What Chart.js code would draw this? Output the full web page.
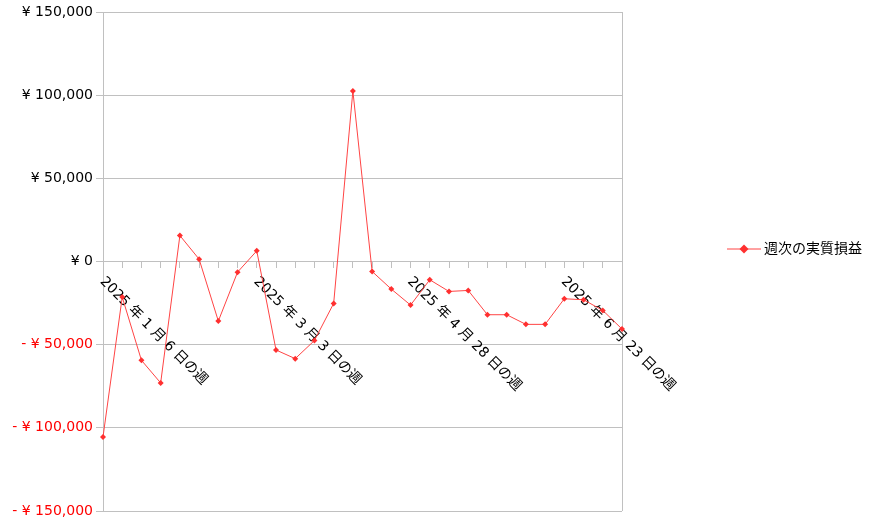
<!DOCTYPE html>
<html>
<head>
<meta charset="utf-8">
<script src="https://cdn.jsdelivr.net/npm/chart.js@4.4.1/dist/chart.umd.min.js"></script>
<style>
    html, body { margin: 0; padding: 0; background: #ffffff; }
    #wrap { width: 870px; height: 525px; }
</style>
</head>
<body>
<div id="wrap"><canvas id="pnlChart" width="870" height="525"></canvas></div>
<script>
const seriesName = '週次の実質損益';

const weekLabels = [
    '2025 年 1 月 6 日の週', '2025 年 1 月 13 日の週', '2025 年 1 月 20 日の週', '2025 年 1 月 27 日の週',
    '2025 年 2 月 3 日の週', '2025 年 2 月 10 日の週', '2025 年 2 月 17 日の週', '2025 年 2 月 24 日の週',
    '2025 年 3 月 3 日の週', '2025 年 3 月 10 日の週', '2025 年 3 月 17 日の週', '2025 年 3 月 24 日の週',
    '2025 年 3 月 31 日の週', '2025 年 4 月 7 日の週', '2025 年 4 月 14 日の週', '2025 年 4 月 21 日の週',
    '2025 年 4 月 28 日の週', '2025 年 5 月 5 日の週', '2025 年 5 月 12 日の週', '2025 年 5 月 19 日の週',
    '2025 年 5 月 26 日の週', '2025 年 6 月 2 日の週', '2025 年 6 月 9 日の週', '2025 年 6 月 16 日の週',
    '2025 年 6 月 23 日の週', '2025 年 6 月 30 日の週', '2025 年 7 月 7 日の週', '2025 年 7 月 14 日の週'
];

const weeklyProfit = [
    -105500, -21400, -59400, -73000, 15600, 1400, -35800, -6400,
    6400, -53200, -58400, -47500, -25200, 102500, -6000, -16600,
    -26200, -11000, -18000, -17400, -32000, -32000, -37800, -37800,
    -22400, -23000, -29400, -40600
];

const yMin = -150000;
const yMax = 150000;
const yStep = 50000;
const labelEvery = 8;

const FONT_FAMILY = '"DejaVu Sans", "Noto Sans CJK JP", sans-serif';
const LINE_COLOR = '#ff4444';
const MARKER_COLOR = '#ff3030';
const GRID_COLOR = '#c0c0c0';

function formatYen(value) {
    const body = '¥ ' + Math.abs(value).toLocaleString('en-US');
    return value < 0 ? '- ' + body : body;
}

// week labels run down-right from the tick, so draw them ourselves
const slantedWeekLabels = {
    id: 'slantedWeekLabels',
    beforeDatasetsDraw(chart) {
        const { ctx, scales: { x, y } } = chart;
        const y0 = y.getPixelForValue(0);
        ctx.save();
        ctx.font = `14px ${FONT_FAMILY}`;
        ctx.fillStyle = '#000000';
        ctx.textAlign = 'left';
        ctx.textBaseline = 'middle';
        weekLabels.forEach((label, i) => {
            if (i % labelEvery) return;
            const px = x.getPixelForValue(i);
            ctx.save();
            ctx.translate(px - 1, y0 + 18);
            ctx.rotate(Math.PI / 4);
            ctx.fillText(label, 0, 0);
            ctx.restore();
        });
        ctx.restore();
    }
};

const sideLegend = {
    id: 'sideLegend',
    afterDraw(chart) {
        const { ctx, chartArea } = chart;
        const left = chartArea.right + 105;
        const midY = 249;
        ctx.save();
        ctx.strokeStyle = LINE_COLOR;
        ctx.lineWidth = 1;
        ctx.beginPath();
        ctx.moveTo(left, midY);
        ctx.lineTo(left + 34, midY);
        ctx.stroke();

        const cx = left + 17;
        ctx.fillStyle = MARKER_COLOR;
        ctx.beginPath();
        ctx.moveTo(cx, midY - 4.5);
        ctx.lineTo(cx + 4.5, midY);
        ctx.lineTo(cx, midY + 4.5);
        ctx.lineTo(cx - 4.5, midY);
        ctx.closePath();
        ctx.fill();

        ctx.fillStyle = '#000000';
        ctx.font = `14px ${FONT_FAMILY}`;
        ctx.textAlign = 'left';
        ctx.textBaseline = 'middle';
        ctx.fillText(seriesName, left + 37, midY);
        ctx.restore();
    }
};

Chart.defaults.font.family = FONT_FAMILY;
Chart.defaults.font.size = 14;
Chart.defaults.color = '#000000';

const lastIndex = weekLabels.length - 1;

new Chart(document.getElementById('pnlChart').getContext('2d'), {
    type: 'line',
    data: {
        labels: weekLabels,
        datasets: [{
            label: seriesName,
            data: weeklyProfit,
            borderColor: LINE_COLOR,
            borderWidth: 1,
            backgroundColor: MARKER_COLOR,
            pointStyle: 'rectRot',
            pointRadius: 3,
            pointBorderWidth: 0,
            pointBackgroundColor: MARKER_COLOR,
            tension: 0,
            fill: false
        }]
    },
    options: {
        responsive: false,
        animation: false,
        devicePixelRatio: 1,
        layout: { padding: { left: 0, top: 12, right: 248, bottom: 14 } },
        plugins: {
            legend: { display: false },
            tooltip: { enabled: false }
        },
        scales: {
            x: {
                type: 'category',
                position: { y: 0 },
                offset: false,
                grid: {
                    drawOnChartArea: true,
                    color: (c) => (c.index === lastIndex ? GRID_COLOR : 'rgba(0,0,0,0)'),
                    tickColor: GRID_COLOR,
                    tickLength: 6
                },
                border: { display: true, color: GRID_COLOR, width: 1 },
                ticks: { display: false, autoSkip: false }
            },
            y: {
                min: yMin,
                max: yMax,
                afterFit(scale) { scale.width = 103; },
                grid: { color: GRID_COLOR, tickColor: GRID_COLOR, tickLength: 7 },
                border: { display: true, color: GRID_COLOR, width: 1 },
                ticks: {
                    stepSize: yStep,
                    padding: 3,
                    font: { size: 14 },
                    color: (c) => (c.tick && c.tick.value < 0 ? '#ff0000' : '#000000'),
                    callback: (value) => formatYen(value)
                }
            }
        }
    },
    plugins: [slantedWeekLabels, sideLegend]
});
</script>
</body>
</html>
